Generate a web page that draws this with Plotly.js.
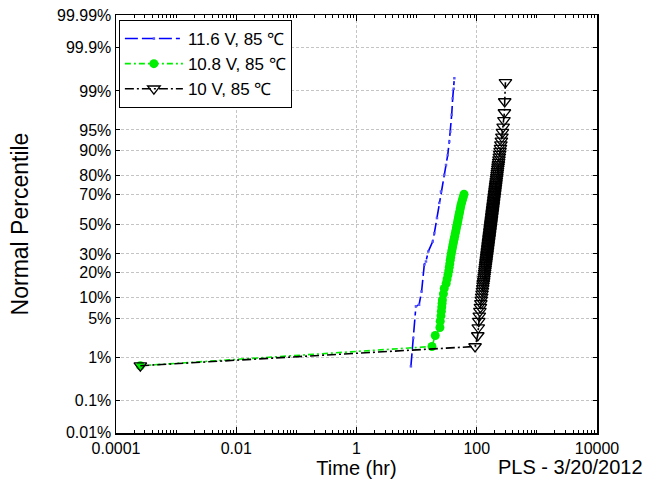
<!DOCTYPE html>
<html>
<head>
<meta charset="utf-8">
<script src="https://cdn.plot.ly/plotly-3.0.1.min.js"></script>
<style>html,body{margin:0;padding:0;background:#fff;}#chart{width:652px;height:504px;}</style>
</head>
<body>
<div id="chart"></div>
<script>
// ---- data ----
const seriesNames = ["11.6 V, 85 \u2103", "10.8 V, 85 \u2103", "10 V, 85 \u2103"];

const bluePct  = [0.64, 2.3, 7.5, 7.9, 11.9, 23.8, 25.6, 31.5, 37.9, 43.6, 54.1, 64.4, 71.5, 80.5, 84.9, 88.6, 92.5, 94.7, 97.2, 98.6, 99.1, 99.46];
const blueTime = [8.03, 8.78, 9.73, 11.0, 12.1, 13.4, 14.3, 15.6, 18.5, 19.7, 21.8, 23.8, 25.4, 28.8, 30.8, 32.9, 34.9, 36.3, 38.3, 39.8, 41.4, 42.4];

const greenPct  = [0.66, 1.61, 2.56, 3.51, 4.46, 5.41, 6.36, 7.31, 8.25, 9.20, 11.10, 13.00, 14.90, 16.79, 18.69, 20.59, 22.49, 24.38, 26.28, 28.18, 30.08, 31.97, 33.87, 35.77, 37.67, 39.56, 41.46, 43.36, 45.26, 47.15, 49.05, 50.95, 52.85, 54.74, 56.64, 58.54, 60.44, 62.33, 64.23, 66.13, 68.03, 69.92];
const greenTime = [0.000254, 18.0, 20.4, 24.4, 24.7, 25.4, 25.8, 26.2, 26.5, 26.8, 27.9, 28.8, 31.0, 32.1, 33.2, 34.2, 34.9, 35.6, 36.2, 36.9, 37.6, 38.5, 39.4, 40.2, 41.1, 42.0, 43.0, 43.9, 44.9, 45.8, 46.8, 47.8, 48.8, 49.8, 50.8, 52.0, 53.1, 54.2, 55.7, 57.5, 59.4, 61.4];

const blackPct  = [0.66, 1.61, 2.56, 3.51, 4.46, 5.41, 6.36, 7.31, 8.25, 9.20,
  10.15, 11.10, 12.05, 13.00, 13.95, 14.90, 15.84, 16.79, 17.74, 18.69,
  19.64, 20.59, 21.54, 22.49, 23.43, 24.38, 25.33, 26.28, 27.23, 28.18,
  29.13, 30.08, 31.02, 31.97, 32.92, 33.87, 34.82, 35.77, 36.72, 37.67,
  38.61, 39.56, 40.51, 41.46, 42.41, 43.36, 44.31, 45.26, 46.20, 47.15,
  48.10, 49.05, 50.00, 50.95, 51.90, 52.85, 53.80, 54.74, 55.69, 56.64,
  57.59, 58.54, 59.49, 60.44, 61.39, 62.33, 63.28, 64.23, 65.18, 66.13,
  67.08, 68.03, 68.98, 69.92, 70.87, 71.82, 72.77, 73.72, 74.67, 75.62,
  76.57, 77.51, 78.46, 79.41, 80.36, 81.31, 82.26, 83.21, 84.16, 85.10,
  86.05, 87.00, 87.95, 88.90, 89.85, 90.80, 91.75, 92.69, 93.64, 94.59,
  95.54, 96.49, 97.44, 98.39, 99.34];
const blackTime = [0.000254, 93.7, 104, 106, 108, 110.2, 112.7, 115.0, 117.0, 119.0,
  120.8, 122.6, 124.2, 125.9, 127.4, 128.9, 130.3, 131.7, 133.0, 134.4,
  135.6, 136.9, 138.1, 139.4, 140.6, 141.8, 142.9, 144.1, 145.2, 146.4,
  147.5, 148.7, 149.8, 150.9, 152.0, 153.1, 154.2, 155.3, 156.4, 157.5,
  158.6, 159.7, 160.8, 161.9, 163.0, 164.1, 165.2, 166.3, 167.4, 168.5,
  169.6, 170.7, 171.8, 173.0, 174.1, 175.3, 176.4, 177.6, 178.7, 179.9,
  181.1, 182.4, 183.6, 184.9, 186.1, 187.4, 188.7, 190.1, 191.4, 192.7,
  194.1, 195.5, 196.9, 198.4, 199.9, 201.5, 203.1, 204.7, 206.4, 208.1,
  209.9, 211.7, 213.6, 215.5, 217.5, 219.6, 221.8, 224.1, 226.5, 229.0,
  231.7, 234.5, 237.5, 240.7, 244.2, 248.0, 252.1, 256.7, 261.9, 267.8,
  274.8, 283.3, 288.4, 291.7, 299.9];

const yTickPct  = [0.01, 0.1, 1, 5, 10, 20, 30, 50, 70, 80, 90, 95, 99, 99.9, 99.99];
const yTickText = ["0.01%", "0.1%", "1%", "5%", "10%", "20%", "30%", "50%", "70%", "80%", "90%", "95%", "99%", "99.9%", "99.99%"];
const xTickVals = [0.0001, 0.01, 1, 100, 10000];
const xTickText = ["0.0001", "0.01", "1", "100", "10000"];

// ---- normal probability scale (inverse normal CDF) ----
function probit(p) {
  const a = [-3.969683028665376e+01, 2.209460984245205e+02, -2.759285104469687e+02, 1.383577518672690e+02, -3.066479806614716e+01, 2.506628277459239e+00];
  const b = [-5.447609879822406e+01, 1.615858368580409e+02, -1.556989798598866e+02, 6.680131188771972e+01, -1.328068155288572e+01];
  const c = [-7.784894002430293e-03, -3.223964580411365e-01, -2.400758277161838e+00, -2.549732539343734e+00, 4.374664141464968e+00, 2.938163982698783e+00];
  const d = [7.784695709041462e-03, 3.224671290700398e-01, 2.445134137142996e+00, 3.754408661907416e+00];
  const plow = 0.02425, phigh = 1 - plow;
  let q, r;
  if (p < plow) {
    q = Math.sqrt(-2 * Math.log(p));
    return (((((c[0]*q+c[1])*q+c[2])*q+c[3])*q+c[4])*q+c[5]) / ((((d[0]*q+d[1])*q+d[2])*q+d[3])*q+1);
  } else if (p <= phigh) {
    q = p - 0.5; r = q*q;
    return (((((a[0]*r+a[1])*r+a[2])*r+a[3])*r+a[4])*r+a[5])*q / (((((b[0]*r+b[1])*r+b[2])*r+b[3])*r+b[4])*r+1);
  } else {
    q = Math.sqrt(-2 * Math.log(1 - p));
    return -(((((c[0]*q+c[1])*q+c[2])*q+c[3])*q+c[4])*q+c[5]) / ((((d[0]*q+d[1])*q+d[2])*q+d[3])*q+1);
  }
}
const toZ = arr => arr.map(v => probit(v / 100));

const Y_LIM = 3.655;
const yTickVals = toZ(yTickPct).map(z => Math.max(-Y_LIM + 0.004, Math.min(Y_LIM - 0.004, z)));

// minor log ticks
const minorX = [];
for (let k = -4; k < 4; k++) {
  for (let m = 1; m < 10; m++) {
    const v = m * Math.pow(10, k);
    if (m === 1 && k % 2 === 0) continue;
    minorX.push(v);
  }
}

const FONT = "Liberation Sans, Arial, Helvetica, sans-serif";

const traces = [
  {
    x: blueTime, y: toZ(bluePct), name: seriesNames[0], type: "scatter", mode: "lines+markers",
    line: {color: "#0000ff", width: 1.6, dash: "13px,4px,13px,4px,13px,4px,4px,4px"},
    marker: {color: "#5a5aff", size: 2.5, symbol: "square"},
    hoverinfo: "x+text", text: bluePct.map(v => v + "%")
  },
  {
    x: greenTime, y: toZ(greenPct), name: seriesNames[1], type: "scatter", mode: "lines+markers",
    line: {color: "#00ee00", width: 1.6, dash: "6px,3px,2px,3px"},
    marker: {color: "#00ee00", size: 9, symbol: "circle", line: {width: 0}},
    hoverinfo: "x+text", text: greenPct.map(v => v + "%")
  },
  {
    x: blackTime, y: toZ(blackPct), name: seriesNames[2], type: "scatter", mode: "lines+markers",
    line: {color: "#000000", width: 1.6, dash: "9px,3px,2px,3px"},
    marker: {color: "#000000", size: 11, symbol: "triangle-down-open", line: {width: 1.3, color: "#000000"}},
    hoverinfo: "x+text", text: blackPct.map(v => v + "%")
  }
];

const layout = {
  width: 652, height: 504,
  margin: {l: 116, r: 55, t: 15, b: 71, pad: 0},
  paper_bgcolor: "#ffffff", plot_bgcolor: "#ffffff",
  font: {family: FONT, size: 16, color: "#000000"},
  showlegend: true,
  legend: {
    x: 0.006, y: 0.988, xanchor: "left", yanchor: "top",
    bgcolor: "#ffffff", bordercolor: "#000000", borderwidth: 1,
    font: {family: FONT, size: 17, color: "#000000"},
    tracegroupgap: 0, itemwidth: 58
  },
  xaxis: {
    type: "log", range: [-4, 4],
    tickmode: "array", tickvals: xTickVals, ticktext: xTickText,
    ticks: "inside", ticklen: 6, tickwidth: 1, tickcolor: "#000",
    showline: true, linecolor: "#000", linewidth: 1.5, mirror: "ticks",
    showgrid: true, gridcolor: "#c4c4c4", gridwidth: 1, griddash: "3px,2px",
    zeroline: false,
    tickfont: {family: FONT, size: 16},
    minor: {tickmode: "array", tickvals: minorX, ticks: "inside", ticklen: 3, tickcolor: "#000", tickwidth: 1, showgrid: false},
    title: {text: "Time (hr)", font: {family: FONT, size: 20}, standoff: 0}
  },
  yaxis: {
    range: [-Y_LIM, Y_LIM],
    tickmode: "array", tickvals: yTickVals, ticktext: yTickText,
    ticks: "inside", ticklen: 4, tickwidth: 1, tickcolor: "#000",
    showline: true, linecolor: "#000", linewidth: 1.5, mirror: "ticks",
    showgrid: true, gridcolor: "#c4c4c4", gridwidth: 1, griddash: "3px,2px",
    zeroline: false,
    tickfont: {family: FONT, size: 16},
    title: {text: "Normal Percentile", font: {family: FONT, size: 23}, standoff: 22}
  },
  annotations: [
    {text: "PLS - 3/20/2012", xref: "paper", yref: "paper", x: 0.944, y: -0.081,
     xanchor: "center", yanchor: "middle", showarrow: false, font: {family: FONT, size: 20, color: "#000"}}
  ]
};

Plotly.newPlot("chart", traces, layout, {displayModeBar: false, staticPlot: true});
</script>
</body>
</html>
